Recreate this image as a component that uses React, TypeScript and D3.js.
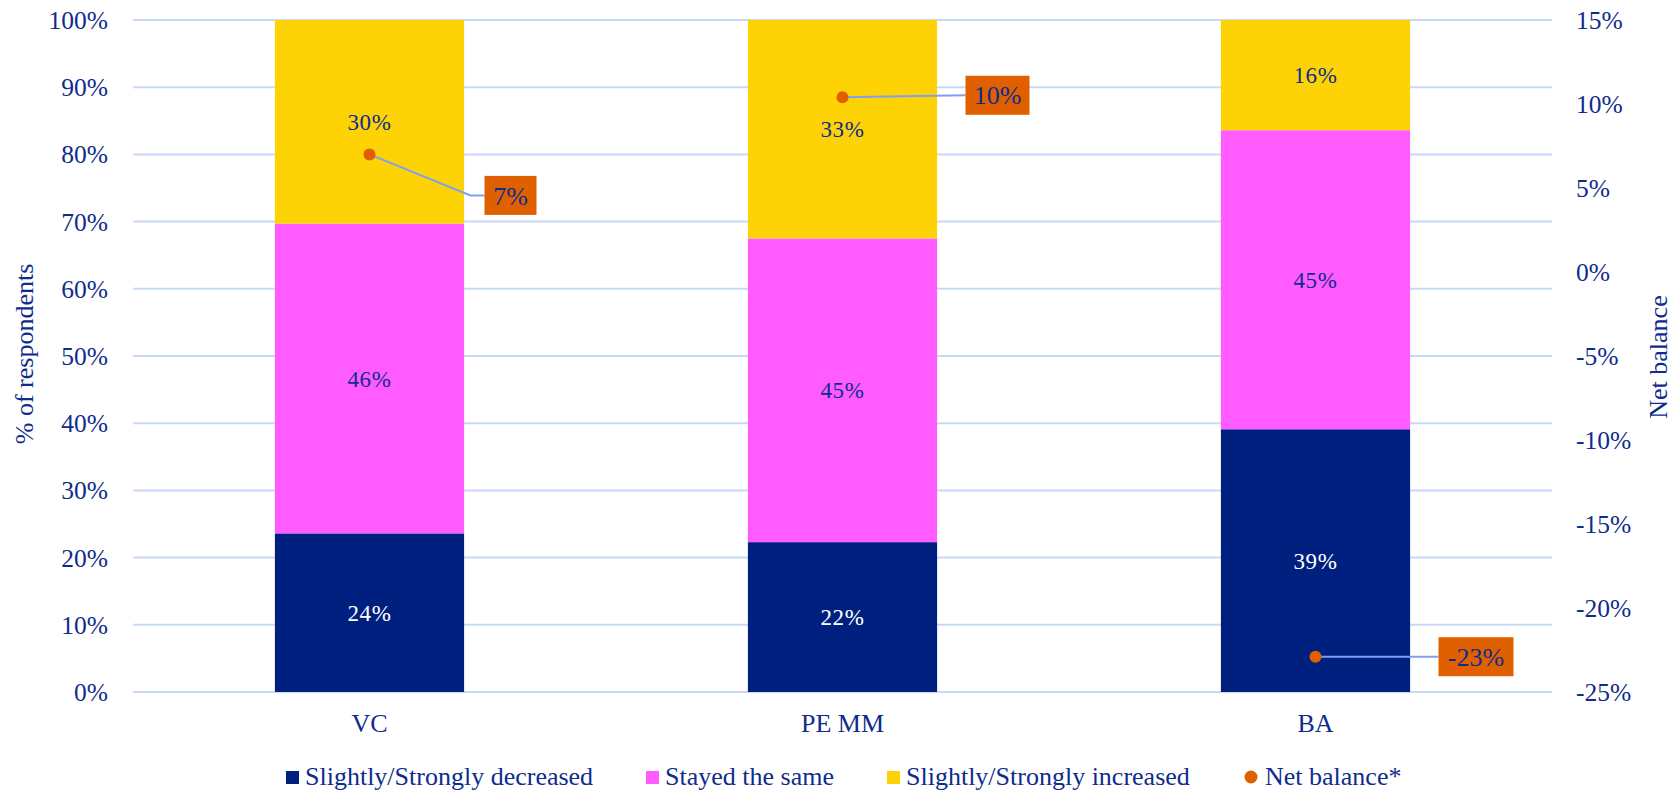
import React from "react";
import * as d3 from "d3";

const categories = ["VC", "PE MM", "BA"];
const seriesNames = ["Slightly/Strongly decreased", "Stayed the same", "Slightly/Strongly increased"];
const decreased = [23.6, 22.3, 39.1];
const stayedSame = [46.1, 45.2, 44.5];
const increased = [30.3, 32.5, 16.4];
const netBalance = [7.0, 10.4, -22.9];
const leftTicks = [0, 10, 20, 30, 40, 50, 60, 70, 80, 90, 100];
const rightTicks = [-25, -20, -15, -10, -5, 0, 5, 10, 15];
const barLabels = [["24%", "46%", "30%"], ["22%", "45%", "33%"], ["39%", "45%", "16%"]];
const netLabels = ["7%", "10%", "-23%"];

// layout / styling (not data)
const W = 1678, H = 792;
const M = { left: 133, right: 1552, top: 20, bottom: 692 };
const COLORS = ["#00207F", "#FF5BFF", "#FDD306"];
const LABEL_COLORS = ["#FFFFFF", "#0F2C8C", "#0F2C8C"];
const ORANGE = "#E06000";
const TEXT = "#0F2C8C";
const GRID = "#C9D7F8";
const LEADER = "#7E9FF5";
const FONT = "'Liberation Serif', 'Times New Roman', serif";
const netLabelOffsets = [[115, 41, 14], [123, -2, 0], [123, 0, 0]];
const netLabelWidths = [52, 64, 75];

export default function App() {
  const x = d3.scaleBand<string>().domain(categories).range([M.left, M.right]).paddingInner(0.6).paddingOuter(0.3);
  const y = d3.scaleLinear().domain([0, 100]).range([M.bottom, M.top]);
  const y2 = d3.scaleLinear().domain([-25, 15]).range([M.bottom, M.top]);

  const rows = categories.map((c, i) => ({ cat: c, s0: decreased[i], s1: stayedSame[i], s2: increased[i] }));
  const stack = d3.stack<any>().keys(["s0", "s1", "s2"])(rows);

  return (
    <div style={{ position: "absolute", left: 0, top: 0 }}>
      <svg width={W} height={H} style={{ display: "block", fontFamily: FONT }}>
        <rect width={W} height={H} fill="#fff" />
        {leftTicks.map((t) => (
          <line key={"g" + t} x1={M.left} x2={M.right} y1={y(t)} y2={y(t)} stroke={GRID} strokeWidth={2} />
        ))}
        {leftTicks.map((t) => (
          <text key={"l" + t} x={108} y={y(t)} dy="0.35em" textAnchor="end" fontSize={25.5} fill={TEXT}>{t}%</text>
        ))}
        {rightTicks.map((t) => (
          <text key={"r" + t} x={1576} y={y2(t)} dy="0.35em" textAnchor="start" fontSize={25.5} fill={TEXT}>{t}%</text>
        ))}
        {stack.map((layer, si) =>
          layer.map((d, ci) => (
            <g key={si + "-" + ci}>
              <rect x={x(categories[ci])} width={x.bandwidth()} y={y(d[1])} height={y(d[0]) - y(d[1])} fill={COLORS[si]} />
              <text x={(x(categories[ci]) as number) + x.bandwidth() / 2} y={(y(d[0]) + y(d[1])) / 2} dy="0.35em"
                textAnchor="middle" fontSize={23} letterSpacing={0.6} fill={LABEL_COLORS[si]}>{barLabels[ci][si]}</text>
            </g>
          ))
        )}
        {categories.map((c) => (
          <text key={"x" + c} x={(x(c) as number) + x.bandwidth() / 2} y={732} textAnchor="middle" fontSize={26} fill={TEXT}>{c}</text>
        ))}
        {netBalance.map((v, i) => {
          const cx = (x(categories[i]) as number) + x.bandwidth() / 2;
          const cy = y2(v);
          const [dx, dy, elbow] = netLabelOffsets[i];
          const bx = cx + dx;
          const by = cy + dy;
          const w = netLabelWidths[i];
          const pts: [number, number][] = elbow ? [[cx, cy], [bx - elbow, by], [bx, by]] : [[cx, cy], [bx, by]];
          return (
            <g key={"n" + i}>
              <path d={d3.line()(pts) as string} fill="none" stroke={LEADER} strokeWidth={2} />
              <circle cx={cx} cy={cy} r={6} fill={ORANGE} />
              <rect x={bx} y={by - 19.5} width={w} height={39} fill={ORANGE} />
              <text x={bx + w / 2} y={by} dy="0.35em" textAnchor="middle" fontSize={26} fill={TEXT}>{netLabels[i]}</text>
            </g>
          );
        })}
        <text transform={`translate(33,354) rotate(-90)`} textAnchor="middle" fontSize={26} fill={TEXT}>% of respondents</text>
        <text transform={`translate(1667,357) rotate(-90)`} textAnchor="middle" fontSize={26} fill={TEXT}>Net balance</text>
        {/* legend */}
        {[286, 646, 887].map((lx, i) => (
          <g key={"lg" + i}>
            <rect x={lx} y={771} width={13} height={13} fill={COLORS[i]} />
            <text x={lx + 19} y={785} fontSize={26} fill={TEXT}>{seriesNames[i]}</text>
          </g>
        ))}
        <circle cx={1251} cy={777} r={6.5} fill={ORANGE} />
        <text x={1265} y={785} fontSize={26} fill={TEXT}>Net balance*</text>
      </svg>
    </div>
  );
}
